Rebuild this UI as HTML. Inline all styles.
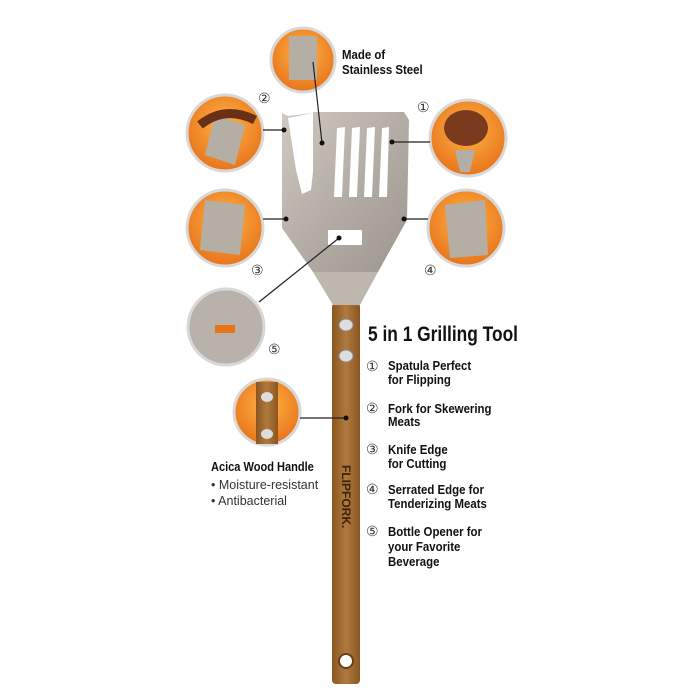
<!DOCTYPE html>
<html><head><meta charset="utf-8"><style>
html,body{margin:0;padding:0;background:#fff;}
svg{display:block;}
text{font-family:"Liberation Sans Narrow","Liberation Sans",sans-serif;}
.b{font-weight:bold;fill:#111;}
</style></head><body>
<svg width="700" height="700" viewBox="0 0 700 700">
<defs>
<radialGradient id="og" cx="50%" cy="40%" r="60%"><stop offset="0" stop-color="#ffb347"/><stop offset="1" stop-color="#e8741a"/></radialGradient>
<linearGradient id="steel" x1="0" y1="0" x2="1" y2="1"><stop offset="0" stop-color="#cfc9c0"/><stop offset="0.5" stop-color="#b3ada5"/><stop offset="1" stop-color="#9c968f"/></linearGradient>
<linearGradient id="wood" x1="0" x2="1"><stop offset="0" stop-color="#8a5520"/><stop offset="0.5" stop-color="#b07a3e"/><stop offset="1" stop-color="#8a5520"/></linearGradient>
</defs>
<rect x="332" y="303" width="28" height="381" rx="4" fill="url(#wood)"/>
<ellipse cx="346" cy="325" rx="7" ry="6" fill="#ddd" stroke="#888"/>
<ellipse cx="346" cy="356" rx="7" ry="6" fill="#ddd" stroke="#888"/>
<circle cx="346" cy="661" r="7" fill="#fff" stroke="#6b3f14" stroke-width="2"/>
<text x="0" y="0" transform="translate(342,465) rotate(90)" font-size="12" fill="#3a2208" font-weight="bold">FLIPFORK.</text>
<polygon points="313,272 378,272 360,305 333,305" fill="#bdb7ae"/>
<polygon points="282,113 288,116 313,113 313,112 404,112 409,120 407,220 378,272 313,272 282,228" fill="url(#steel)"/>
<polygon points="288,118 313,113 313,172 311,190 302,194 296,170" fill="#fff"/>
<g fill="#fff">
<polygon points="337,128 345,127 342,197 334,197"/>
<polygon points="352,128 360,127 357,197 349,197"/>
<polygon points="367,128 375,127 372,197 364,197"/>
<polygon points="382,128 389,127 387,197 379,197"/>
<rect x="328" y="230" width="34" height="15" rx="1"/>
</g>
<g stroke="#d8d8d8" stroke-width="3">
<circle cx="303" cy="60" r="32" fill="url(#og)"/>
<circle cx="225" cy="133" r="38" fill="url(#og)"/>
<circle cx="468" cy="138" r="38" fill="url(#og)"/>
<circle cx="225" cy="228" r="38" fill="url(#og)"/>
<circle cx="466" cy="228" r="38" fill="url(#og)"/>
<circle cx="226" cy="327" r="38" fill="#b8b2aa"/>
<circle cx="267" cy="412" r="33" fill="url(#og)"/>
</g>
<g fill="#b5aea5">
<rect x="289" y="36" width="28" height="44"/>
<polygon points="215,115 245,125 235,165 205,155"/>
<polygon points="455,150 475,150 470,172 460,172"/>
<polygon points="205,200 245,205 240,255 200,250"/>
<polygon points="445,205 485,200 488,255 450,258"/>
</g>
<ellipse cx="466" cy="128" rx="22" ry="18" fill="#7a3a1e"/>
<path d="M200 125 q25 -20 55 -5" stroke="#6a3015" stroke-width="9" fill="none"/>
<rect x="256" y="382" width="22" height="62" fill="url(#wood)"/>
<ellipse cx="267" cy="397" rx="6" ry="5" fill="#ddd"/>
<ellipse cx="267" cy="434" rx="6" ry="5" fill="#ddd"/>
<rect x="215" y="325" width="20" height="8" fill="#e8741a"/>
<g stroke="#222" stroke-width="1.2">
<line x1="313" y1="62" x2="322" y2="143"/>
<line x1="263" y1="130" x2="284" y2="130"/>
<line x1="392" y1="142" x2="430" y2="142"/>
<line x1="263" y1="219" x2="286" y2="219"/>
<line x1="404" y1="219" x2="428" y2="219"/>
<line x1="259" y1="302" x2="339" y2="238"/>
<line x1="300" y1="418" x2="346" y2="418"/>
</g>
<g fill="#111">
<circle cx="322" cy="143" r="2.5"/><circle cx="284" cy="130" r="2.5"/><circle cx="392" cy="142" r="2.5"/>
<circle cx="286" cy="219" r="2.5"/><circle cx="404" cy="219" r="2.5"/><circle cx="339" cy="238" r="2.5"/><circle cx="346" cy="418" r="2.5"/>
</g>
<g font-size="14" fill="#333" font-family="DejaVu Sans,sans-serif">
<text x="258" y="103">②</text><text x="417" y="112">①</text><text x="251" y="275">③</text><text x="424" y="275">④</text><text x="268" y="354">⑤</text>
</g>
<g class="b" font-size="13" transform="translate(342,0) scale(0.88,1) translate(-342,0)">
<text x="342" y="59">Made of</text>
<text x="342" y="74">Stainless Steel</text>
</g>
<text class="b" x="368" y="341" font-size="21" textLength="150" lengthAdjust="spacingAndGlyphs">5 in 1 Grilling Tool</text>
<g font-size="14" fill="#333" font-family="DejaVu Sans,sans-serif">
<text x="366" y="371">①</text><text x="366" y="413">②</text><text x="366" y="454">③</text><text x="366" y="494">④</text><text x="366" y="536">⑤</text>
</g>
<g class="b" font-size="13" transform="translate(388,0) scale(0.88,1) translate(-388,0)">
<text x="388" y="370">Spatula Perfect</text><text x="388" y="384">for Flipping</text>
<text x="388" y="413">Fork for Skewering</text><text x="388" y="426">Meats</text>
<text x="388" y="454">Knife Edge</text><text x="388" y="468">for Cutting</text>
<text x="388" y="494">Serrated Edge for</text><text x="388" y="508">Tenderizing Meats</text>
<text x="388" y="536">Bottle Opener for</text><text x="388" y="551">your Favorite</text><text x="388" y="566">Beverage</text>
</g>
<g transform="translate(211,0) scale(0.85,1) translate(-211,0)">
<text class="b" x="211" y="471" font-size="13">Acica Wood Handle</text>
</g>
<g font-size="12.5" fill="#333">
<text x="211" y="489">• Moisture-resistant</text>
<text x="211" y="505">• Antibacterial</text>
</g>
</svg>
</body></html>
